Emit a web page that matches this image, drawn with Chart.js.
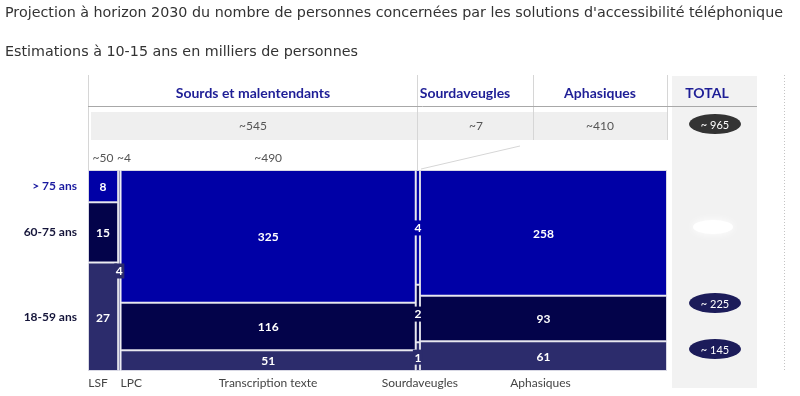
<!DOCTYPE html>
<html>
<head>
<meta charset="utf-8">
<script src="https://cdn.jsdelivr.net/npm/chart.js@4.4.1/dist/chart.umd.min.js"></script>
<style>
  html, body { margin: 0; padding: 0; background: #fff; }
  #wrap { width: 800px; height: 396px; position: relative; }
</style>
</head>
<body>
<div id="wrap"><canvas id="mekko"></canvas></div>
<script>
// colonnes (largeur = total de la colonne, en milliers)
const columns = ['LSF', 'LPC', 'Transcription texte', 'Sourdaveugles', 'Aphasiques'];
const colTotals = [50, 4, 490, 7, 410];

// couches empilées, du haut vers le bas
const layerTop = [8, 0, 325, 4, 258];
const layerMid = [15, 0, 116, 2, 93];
const layerLow = [27, 4, 51, 1, 61];

const rowLabels = ['> 75 ans', '60-75 ans', '18-59 ans'];
const groupHeaders = ['Sourds et malentendants', 'Sourdaveugles', 'Aphasiques', 'TOTAL'];
const groupTotals = ['~545', '~7', '~410'];
const grandTotal = '~ 965';
const layerTotals = ['', '~ 225', '~ 145'];

const title = "Projection à horizon 2030 du nombre de personnes concernées par les solutions d'accessibilité téléphonique";
const subtitle = 'Estimations à 10-15 ans en milliers de personnes';

// positions cumulées sur l'axe x
const starts = [];
let acc = 0;
colTotals.forEach(t => { starts.push(acc); acc += t; });
const xMax = acc;
const sums = columns.map((c, i) => layerTop[i] + layerMid[i] + layerLow[i]);

function segments(vals, below) {
  return columns.map((c, i) => {
    const x = starts[i] + colTotals[i] / 2;
    if (!vals[i]) return { x: x, y: null };
    const lo = below[i] / sums[i] * 100;
    const hi = (below[i] + vals[i]) / sums[i] * 100;
    return { x: x, y: [lo, hi] };
  });
}
const zero = columns.map(() => 0);
const lowMid = columns.map((c, i) => layerLow[i] + layerMid[i]);

const FONT = 'Lato, "Open Sans", sans-serif';

const mekko = {
  id: 'mekko',
  afterDatasetsUpdate(chart) {
    // largeur variable : chaque barre couvre [debut, fin] de sa colonne
    const xs = chart.scales.x;
    chart.data.datasets.forEach((ds, d) => {
      chart.getDatasetMeta(d).data.forEach((el, i) => {
        const l = xs.getPixelForValue(starts[i]);
        const r = xs.getPixelForValue(starts[i] + colTotals[i]);
        el.x = (l + r) / 2;
        el.width = r - l;
      });
    });
  },
  beforeDraw(chart) {
    const ctx = chart.ctx;
    ctx.save();
    ctx.fillStyle = '#333';
    ctx.font = '14.3px "DejaVu Sans"';
    ctx.textBaseline = 'middle';
    ctx.fillText(title, 5, 13);
    ctx.fillText(subtitle, 5, 52);
    ctx.restore();
  },
  beforeDatasetsDraw(chart) {
    const ctx = chart.ctx;
    const xs = chart.scales.x;
    const ca = chart.chartArea;
    ctx.save();
    // colonne TOTAL
    ctx.fillStyle = '#f2f2f2';
    ctx.fillRect(672, 76, 85, 312);
    // bande des sous-totaux
    ctx.fillStyle = '#efefef';
    ctx.fillRect(91, 112, ca.right - 91, 28);

    ctx.strokeStyle = '#d6d6d6';
    ctx.lineWidth = 1;
    ctx.beginPath();
    ctx.moveTo(88.5, 75); ctx.lineTo(88.5, ca.top);
    ctx.moveTo(417.5, 75); ctx.lineTo(417.5, ca.top);
    ctx.moveTo(533.5, 75); ctx.lineTo(533.5, 140);
    ctx.moveTo(667.5, 75); ctx.lineTo(667.5, 140);
    ctx.moveTo(421, 169); ctx.lineTo(520, 146);
    ctx.stroke();

    ctx.strokeStyle = '#a8a8a8';
    ctx.beginPath();
    ctx.moveTo(88, 106.5); ctx.lineTo(757, 106.5);
    ctx.stroke();

    ctx.strokeStyle = '#c4c4c4';
    ctx.setLineDash([1, 2]);
    ctx.beginPath();
    ctx.moveTo(784.5, 75); ctx.lineTo(784.5, ca.bottom);
    ctx.stroke();
    ctx.setLineDash([]);

    // en-têtes
    ctx.textAlign = 'center';
    ctx.textBaseline = 'middle';
    ctx.fillStyle = '#1e1e96';
    ctx.font = 'bold 14px ' + FONT;
    const headX = [253, 465, 600, 707];
    groupHeaders.forEach((h, i) => ctx.fillText(h, headX[i], 93));

    ctx.fillStyle = '#555';
    ctx.font = '12px ' + FONT;
    const bandX = [253, 476, 600];
    groupTotals.forEach((t, i) => ctx.fillText(t, bandX[i], 126));

    // totaux des colonnes sourds
    const cx = i => xs.getPixelForValue(starts[i] + colTotals[i] / 2);
    ctx.fillText('~' + colTotals[0], cx(0), 158);
    ctx.textAlign = 'left';
    ctx.fillText('~' + colTotals[1], xs.getPixelForValue(starts[1]) - 1, 158);
    ctx.textAlign = 'center';
    ctx.fillText('~' + colTotals[2], cx(2), 158);

    // libellés bas
    ctx.fillStyle = '#444';
    ctx.fillText(columns[0], cx(0) - 5, 383);
    ctx.textAlign = 'left';
    ctx.fillText(columns[1], xs.getPixelForValue(starts[2]), 383);
    ctx.textAlign = 'center';
    ctx.fillText(columns[2], cx(2), 383);
    ctx.fillText(columns[3], cx(3) + 2, 383);
    ctx.fillText(columns[4], cx(4) - 3, 383);

    // tranches d'âge, alignées sur la colonne LSF
    ctx.textAlign = 'right';
    ctx.font = 'bold 12px ' + FONT;
    const rowColors = ['#1a1aa0', '#15153a', '#15153a'];
    rowLabels.forEach((lab, d) => {
      const el = chart.getDatasetMeta(d).data[0];
      ctx.fillStyle = rowColors[d];
      ctx.fillText(lab, 77, (el.y + el.base) / 2);
    });
    ctx.restore();
  },
  afterDatasetsDraw(chart) {
    const ctx = chart.ctx;
    ctx.save();
    ctx.textAlign = 'center';
    ctx.textBaseline = 'middle';
    ctx.font = 'bold 12px ' + FONT;
    const layers = [layerTop, layerMid, layerLow];
    chart.data.datasets.forEach((ds, d) => {
      chart.getDatasetMeta(d).data.forEach((el, i) => {
        if (!layers[d][i]) return;
        const txt = String(layers[d][i]);
        const yc = (el.y + el.base) / 2 + 1;
        if (el.width < ctx.measureText(txt).width + 4) {
          // colonne étroite : pastille de la couleur du segment
          ctx.fillStyle = ds.backgroundColor;
          ctx.fillRect(el.x - 5, yc - 8, 10, 15);
        }
        ctx.fillStyle = '#fff';
        ctx.fillText(txt, el.x, yc);
      });
    });

    // pastilles des totaux
    function pill(x, y, txt, color) {
      ctx.fillStyle = color;
      ctx.beginPath();
      ctx.ellipse(x, y, 26, 10, 0, 0, Math.PI * 2);
      ctx.fill();
      ctx.fillStyle = '#fff';
      ctx.font = '11px ' + FONT;
      ctx.fillText(txt, x, y + 1);
    }
    pill(715, 124, grandTotal, '#333333');
    pill(715, 303, layerTotals[1], '#1c1c5a');
    pill(715, 349, layerTotals[2], '#1c1c5a');

    // tache blanche (total effacé)
    ctx.fillStyle = '#ffffff';
    ctx.shadowColor = '#ffffff';
    ctx.shadowBlur = 8;
    ctx.beginPath();
    ctx.ellipse(713, 227, 20, 7, 0, 0, Math.PI * 2);
    ctx.fill();
    ctx.restore();
  }
};

const barStyle = { borderColor: '#d8d8e4', borderWidth: 1, borderSkipped: false, grouped: false };

new Chart(document.getElementById('mekko'), {
  type: 'bar',
  data: {
    datasets: [
      Object.assign({ label: rowLabels[0], data: segments(layerTop, lowMid), backgroundColor: '#0000a6' }, barStyle),
      Object.assign({ label: rowLabels[1], data: segments(layerMid, layerLow), backgroundColor: '#03034a' }, barStyle),
      Object.assign({ label: rowLabels[2], data: segments(layerLow, zero), backgroundColor: '#2c2c6c' }, barStyle)
    ]
  },
  options: {
    responsive: true,
    maintainAspectRatio: false,
    animation: false,
    layout: { padding: { left: 88, right: 133, top: 170, bottom: 25 } },
    plugins: { legend: { display: false }, tooltip: { enabled: false } },
    scales: {
      x: { type: 'linear', min: 0, max: xMax, offset: false, display: false },
      y: { min: 0, max: 100, display: false }
    }
  },
  plugins: [mekko]
});
</script>
</body>
</html>
